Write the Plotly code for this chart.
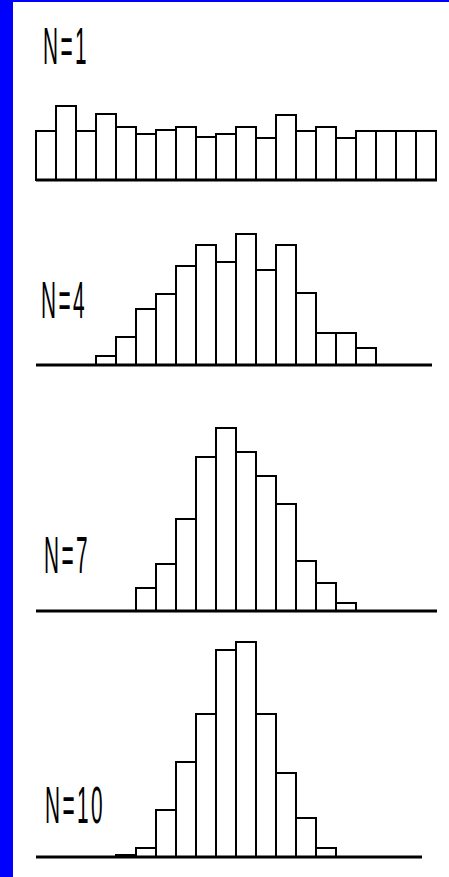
import plotly.graph_objects as go

# ---- data (bar heights, arbitrary units) ----
labels = ["N=1", "N=4", "N=7", "N=10"]
start_bin = [0, 3, 5, 4]
heights_n1 = [49, 74, 49, 66, 53, 46, 50, 53, 43, 46, 53, 42, 65, 49, 53, 42, 49, 49, 49, 49]
heights_n4 = [9, 28, 56, 71, 99, 120, 103, 131, 95, 120, 72, 32, 32, 17]
heights_n7 = [23, 47, 92, 154, 183, 159, 135, 107, 50, 28, 8]
heights_n10 = [2, 9, 47, 95, 143, 207, 215, 143, 84, 39, 9]
series = [heights_n1, heights_n4, heights_n7, heights_n10]
baseline_end = [19.55, 19.3, 19.55, 18.8]

# ---- layout in pixels ----
W, H = 449, 877
ML, MT = 13, 2
PW, PH = W - ML, H - MT
bands = [(2, 200), (200, 400), (400, 630), (630, 877)]   # pixel top/bottom of each panel
baselines = [180, 365, 611, 857]
label_pos = [(40.5, 46.5), (38.5, 300), (41.5, 555), (42.5, 805)]
xrange_ = [(ML - 46) / 20, (W - 46) / 20]

fig = go.Figure()
for i, h in enumerate(series):
    ax = "" if i == 0 else str(i + 1)
    xs = [start_bin[i] + j for j in range(len(h))]
    fig.add_trace(go.Bar(
        x=xs, y=h, width=1,
        marker=dict(color="white", line=dict(color="black", width=2)),
        xaxis="x" + ax, yaxis="y" + ax, showlegend=False, hoverinfo="skip",
    ))
    top, bot = bands[i]
    b = baselines[i]
    dom = [(H - bot) / PH, (H - top) / PH]
    fig.layout["xaxis" + ax] = dict(range=xrange_, visible=False, domain=[0, 1],
                                    anchor="y" + ax, fixedrange=True)
    fig.layout["yaxis" + ax] = dict(range=[-(bot - b), b - top], visible=False,
                                    domain=dom, anchor="x" + ax, fixedrange=True)
    fig.add_shape(type="line", xref="x" + ax, yref="y" + ax,
                  x0=-0.5, x1=baseline_end[i], y0=0, y1=0,
                  line=dict(color="black", width=3), layer="above")
    lx, ly = label_pos[i]
    fig.add_annotation(text=labels[i], xref="paper", yref="paper",
                       x=(lx - ML) / PW, y=(H - ly) / PH,
                       xanchor="left", yanchor="middle", align="left",
                       showarrow=False,
                       font=dict(family="Liberation Sans, Arial, sans-serif",
                                 size=52, color="black"))

fig.update_layout(
    width=W, height=H,
    margin=dict(l=ML, r=0, t=MT, b=0, pad=0),
    paper_bgcolor="#0000ff", plot_bgcolor="white",
    bargap=0,
)

post = """
document.body.style.margin = '0';
document.querySelectorAll('.annotation-text').forEach(function (t) {
  t.setAttribute('text-anchor', 'start');
  t.style.letterSpacing = '6px';
  t.style.transformBox = 'fill-box';
  t.style.transformOrigin = '0% 50%';
  t.style.transform = 'scaleX(0.4)';
});
"""
fig.write_html("out.html", config={"displayModeBar": False}, post_script=post)
